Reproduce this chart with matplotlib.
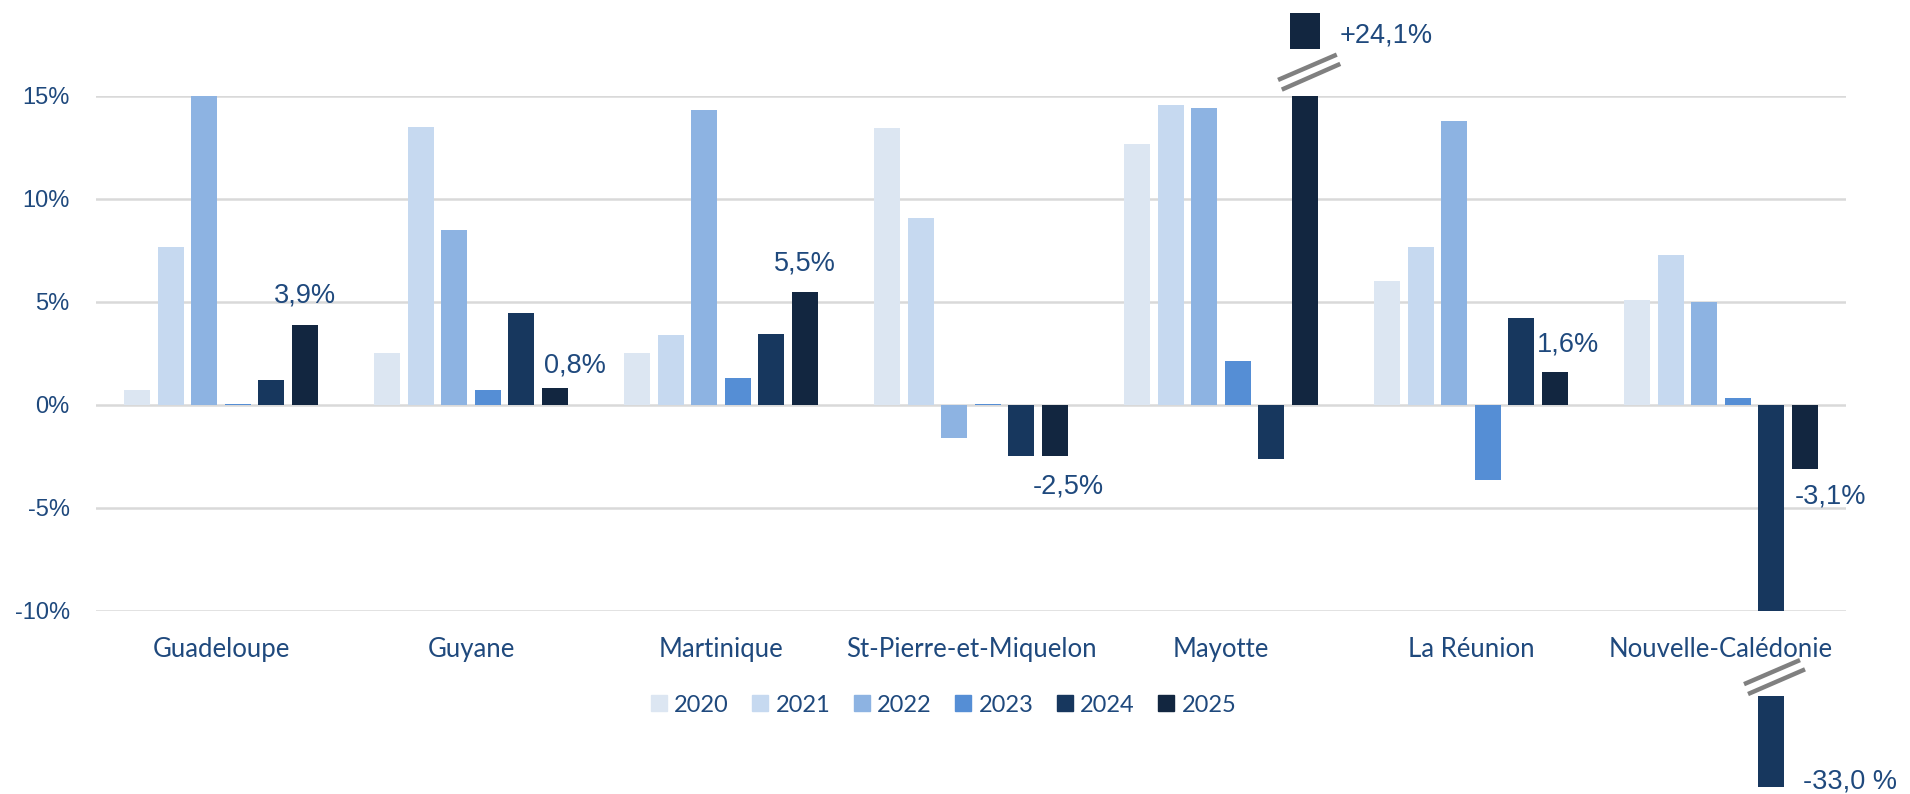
import numpy as np
import matplotlib.pyplot as plt
from matplotlib.patches import Patch

# données (variation annuelle en %)
territoires = ['Guadeloupe', 'Guyane', 'Martinique', 'St-Pierre-et-Miquelon',
               'Mayotte', 'La Réunion', 'Nouvelle-Calédonie']
annees = ['2020', '2021', '2022', '2023', '2024', '2025']

v2020 = [0.7, 2.5, 2.5, 13.45, 12.65, 6.0, 5.1]
v2021 = [7.65, 13.5, 3.4, 9.05, 14.55, 7.65, 7.3]
v2022 = [15.0, 8.5, 14.3, -1.6, 14.4, 13.8, 5.0]
v2023 = [0.06, 0.7, 1.3, 0.06, 2.15, -3.65, 0.35]
v2024 = [1.2, 4.45, 3.45, -2.5, -2.65, 4.2, -33.0]
v2025 = [3.9, 0.8, 5.5, -2.5, 24.1, 1.6, -3.1]

couleurs = ['#DCE6F2', '#C6D9F0', '#8DB3E2', '#558ED5', '#17375E', '#122640']
bleu_txt = '#1F497D'

series = [v2020, v2021, v2022, v2023, v2024, v2025]
y_min, y_max = -10, 15

fig = plt.figure(figsize=(19.1, 7.94), dpi=100)
ax = fig.add_axes([0.0503, 0.2309, 0.9162, 0.6482])

x = np.arange(len(territoires))
pas = 0.134
larg = 0.104
for i, vals in enumerate(series):
    vals = np.clip(vals, y_min, y_max)
    ax.bar(x + (i - 2.5) * pas, vals, width=larg, color=couleurs[i], zorder=3)

ax.set_xlim(-0.5, len(territoires) - 0.5)
ax.set_ylim(y_min, y_max)
ax.set_yticks([-10, -5, 0, 5, 10, 15])
ax.set_yticklabels(['-10%', '-5%', '0%', '5%', '10%', '15%'])
ax.yaxis.grid(True, color='#D9D9D9', linewidth=1.8, zorder=0)
ax.set_axisbelow(True)
for s in ax.spines.values():
    s.set_visible(False)
ax.tick_params(axis='y', length=0, pad=19, labelsize=17, labelcolor=bleu_txt)
for t in ax.get_yticklabels():
    t.set_family('Liberation Sans')
ax.set_xticks(x)
ax.set_xticklabels(territoires, family='Lato', fontsize=18.5, color=bleu_txt)
ax.tick_params(axis='x', length=0, pad=19)

# étiquettes de données
def fmt(v):
    return ('%.1f%%' % v).replace('.', ',')

etiq = {0: (0, 20.6), 1: (14.4, 16.6), 2: (0, 20), 3: (9.4, -21.6),
        5: (9.4, 19.8), 6: (18.7, -20.2)}
for k, (dx, dy) in etiq.items():
    xb = x[k] + 2.5 * pas
    ax.annotate(fmt(v2025[k]), xy=(xb, v2025[k]), xytext=(dx, dy),
                textcoords='offset points', ha='center', va='center',
                fontsize=19.5, color=bleu_txt, family='Liberation Sans')

# Mayotte 2025 : barre coupée
xb = x[4] + 2.5 * pas
ax.bar(xb, 19.05 - 17.27, bottom=17.27, width=0.118, color=couleurs[5], clip_on=False)
for (x0, x1, y0, y1) in [(-0.107, 0.128, 15.78, 17.01), (-0.092, 0.142, 15.31, 16.56)]:
    ax.plot([xb + x0, xb + x1], [y0, y1], color='#808080', lw=3.2,
            solid_capstyle='butt', clip_on=False)
ax.text(xb + 0.141, 17.94, '+' + fmt(v2025[4]), ha='left', va='center',
        fontsize=19.5, color=bleu_txt, family='Liberation Sans')

# Nouvelle-Calédonie 2024 : barre coupée
xb = x[6] + 1.5 * pas
ax.bar(xb, -14.15 + 18.57, bottom=-18.57, width=larg, color=couleurs[4], clip_on=False)
for (x0, x1, y0, y1) in [(-0.109, 0.115, -13.57, -12.40), (-0.093, 0.135, -14.05, -12.85)]:
    ax.plot([xb + x0, xb + x1], [y0, y1], color='#808080', lw=3.2,
            solid_capstyle='butt', clip_on=False)
ax.text(xb + 0.127, -18.31, fmt(v2024[6]).replace('%', ' %'), ha='left', va='center',
        fontsize=19.5, color=bleu_txt, family='Liberation Sans')

handles = [Patch(color=c, label=a) for c, a in zip(couleurs, annees)]
fig.legend(handles=handles, loc='center', bbox_to_anchor=(0.494, 0.112), ncol=6,
           frameon=False, prop={'family': 'Lato', 'size': 17}, labelcolor=bleu_txt,
           handlelength=0.68, handleheight=0.65, handletextpad=0.3, columnspacing=1.0)

fig.savefig('out.png', dpi=100)
